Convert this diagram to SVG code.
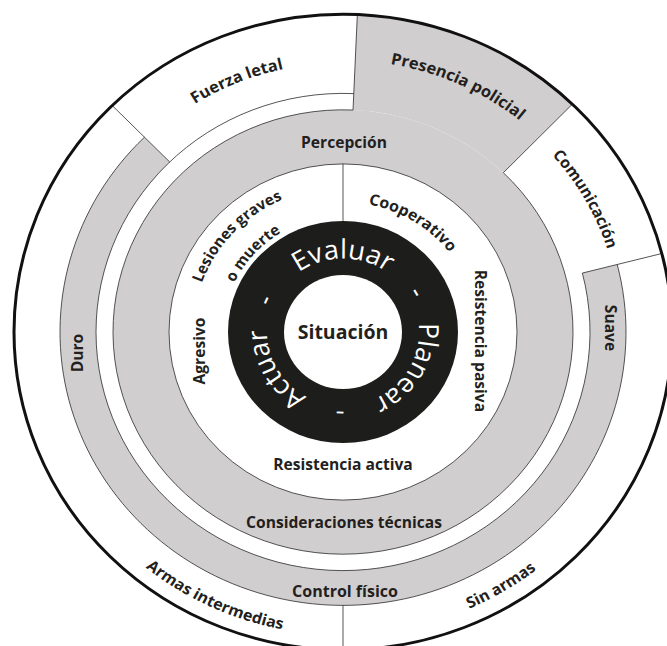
<svg xmlns="http://www.w3.org/2000/svg" width="667" height="646" viewBox="0 0 667 646">
<style>
.g{fill:#d1cecf}
.ln{fill:none;stroke:#333333;stroke-width:0.85}
.lb{font-family:"Open Sans","Noto Sans",sans-serif;font-weight:700;font-size:15.6px;fill:#231f20}
.cy{font-family:"Open Sans","Noto Sans",sans-serif;font-weight:400;font-size:27.5px;fill:#ffffff}
</style>
<defs>
<path id="pFuerza" d="M -278.80 10.71 A 279 279 0 0 1 206.53 -187.27"/>
<path id="pPres" d="M -205.37 -192.16 A 281 281 0 0 1 279.71 26.97"/>
<path id="pCom" d="M -46.36 -274.11 A 278 278 0 0 1 211.70 180.17"/>
<path id="pCoop" d="M -83.54 -105.41 A 134.5 134.5 0 0 1 131.75 27.05"/>
<path id="pLes" d="M -133.65 68.10 A 150 150 0 0 1 58.61 -138.08"/>
<path id="pMue" d="M -106.05 56.15 A 120 120 0 0 1 45.15 -111.18"/>
<path id="pEval" d="M -71.42 -25.99 A 76 76 0 0 1 71.42 -25.99"/>
<path id="pPlan" d="M 58.22 -48.85 A 76 76 0 0 1 -13.20 74.85"/>
<path id="pAct" d="M 13.20 74.85 A 76 76 0 0 1 -58.22 -48.85"/>
<path id="pRing" d="M 76 0 A 76 76 0 1 1 -76 0 A 76 76 0 1 1 76 0"/>
<path id="pArmas" d="M -313.07 -21.89 A 314 314 0 0 0 217.46 226.52"/>
<path id="pSin" d="M -196.98 243.25 A 313 313 0 0 0 307.25 -59.72"/>
</defs>
<rect width="667" height="646" fill="#ffffff"/>
<g transform="translate(343 332) scale(1 0.966)">
  <g id="outer-ring">
    <circle r="329" fill="#ffffff"/>
  </g>
  <g id="control-fisico-band">
    <path class="g" d="M 274.23 -69.90 A 283 283 0 1 1 -198.53 -201.68 L -173.28 -176.02 A 247 247 0 1 0 239.35 -61.01 Z"/>
  </g>
  <g id="presencia-policial">
    <path class="g" d="M 14.35 -328.69 A 329 329 0 0 1 229.37 -235.86 L 160.35 -164.89 A 230 230 0 0 0 10.03 -229.78 Z"/>
  </g>
  <g id="percepcion-ring">
    <circle r="230" class="g"/>
    <circle r="174" class="ln" style="fill:#ffffff"/>
  </g>
  <g id="ciclo">
    <circle r="115" fill="#1d1d1b"/>
    <circle r="59" fill="#ffffff"/>
  </g>
  <g id="connectors">
    <path class="ln" d="M 160.35 -164.89 A 230 230 0 1 1 10.03 -229.78"/>
    <path class="ln" d="M 239.35 -61.01 A 247 247 0 1 1 10.77 -246.77"/>
    <path class="ln" d="M 274.23 -69.90 A 283 283 0 1 1 -198.53 -201.68"/>
    <path class="ln" d="M 10.03 -229.78 L 14.35 -328.69"/>
    <path class="ln" d="M 160.35 -164.89 L 229.37 -235.86"/>
    <path class="ln" d="M 239.35 -61.01 L 318.81 -81.26"/>
    <path class="ln" d="M -173.28 -176.02 L -230.80 -234.46"/>
    <path class="ln" d="M 0 283 L 0 329"/>
    <path class="ln" d="M 0 -174 L 0 -115"/>
    <circle r="329" fill="none" stroke="#111111" stroke-width="3"/>
  </g>
  <g id="curved-labels">
    <text class="lb" style="font-size:16.5px"><textPath href="#pFuerza" startOffset="50%" text-anchor="middle">Fuerza letal</textPath></text>
    <text class="lb" style="font-size:16.5px"><textPath href="#pPres" startOffset="50%" text-anchor="middle">Presencia policial</textPath></text>
    <text class="lb" style="font-size:16px"><textPath href="#pCom" startOffset="50%" text-anchor="middle">Comunicación</textPath></text>
    <text class="lb" style="font-size:16px"><textPath href="#pCoop" startOffset="50%" text-anchor="middle">Cooperativo</textPath></text>
    <text class="lb" style="font-size:15.5px"><textPath href="#pLes" startOffset="50%" text-anchor="middle">Lesiones graves</textPath></text>
    <text class="lb" style="font-size:15.5px"><textPath href="#pMue" startOffset="50%" text-anchor="middle">o muerte</textPath></text>
    <text class="lb" style="font-size:16px"><textPath href="#pArmas" startOffset="50%" text-anchor="middle">Armas intermedias</textPath></text>
    <text class="lb" style="font-size:16px"><textPath href="#pSin" startOffset="50%" text-anchor="middle">Sin armas</textPath></text>
    <text class="cy"><textPath href="#pEval" startOffset="50%" text-anchor="middle">Evaluar</textPath></text>
    <text class="cy"><textPath href="#pPlan" startOffset="50%" text-anchor="middle">Planear</textPath></text>
    <text class="cy"><textPath href="#pAct" startOffset="50%" text-anchor="middle">Actuar</textPath></text>
    <text class="cy"><textPath href="#pRing" startOffset="91.9%" text-anchor="middle">-</textPath></text>
    <text class="cy"><textPath href="#pRing" startOffset="25.6%" text-anchor="middle">-</textPath></text>
    <text class="cy"><textPath href="#pRing" startOffset="56.4%" text-anchor="middle">-</textPath></text>
  </g>
</g>
<g id="straight-labels">
  <text class="lb" x="344" y="148" text-anchor="middle">Percepción</text>
  <text class="lb" x="343" y="339" text-anchor="middle" style="font-size:19.5px">Situación</text>
  <text class="lb" x="343" y="470" text-anchor="middle">Resistencia activa</text>
  <text class="lb" x="344" y="528" text-anchor="middle">Consideraciones técnicas</text>
  <text class="lb" x="345" y="596.5" text-anchor="middle" style="font-size:16px">Control físico</text>
  <text class="lb" text-anchor="middle" transform="translate(205 351) rotate(-90)">Agresivo</text>
  <text class="lb" text-anchor="middle" transform="translate(475 341) rotate(90)">Resistencia pasiva</text>
  <text class="lb" text-anchor="middle" transform="translate(83 353) rotate(-90)">Duro</text>
  <text class="lb" text-anchor="middle" transform="translate(605 328) rotate(90)">Suave</text>
</g>
</svg>
